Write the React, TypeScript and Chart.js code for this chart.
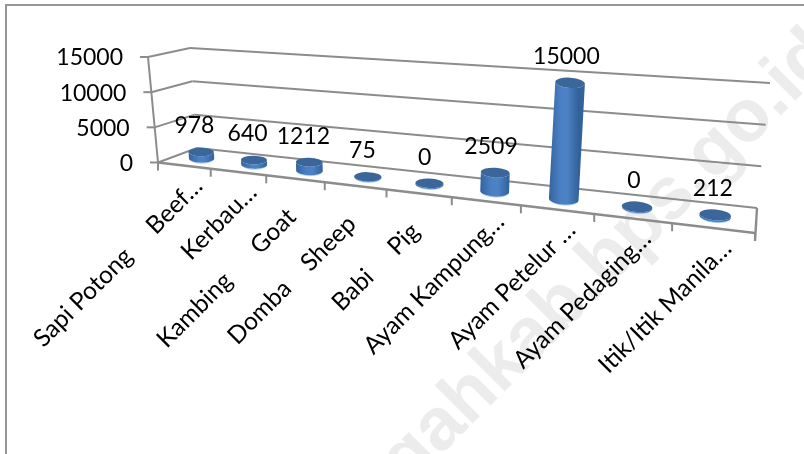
import React, { useEffect, useRef } from "react";
import { Chart, registerables } from "chart.js";

Chart.register(...registerables);

const categories = [
  "Sapi Potong     Beef…",
  "Kerbau…",
  "Kambing      Goat    ",
  "Domba    Sheep    ",
  "Babi     Pig    ",
  "Ayam Kampung…",
  "Ayam Petelur …",
  "Ayam Pedaging…",
  "Itik/Itik Manila…",
];
const values = [978, 640, 1212, 75, 0, 2509, 15000, 0, 212];
const yTicks = [0, 5000, 10000, 15000];
const watermark = "ngahkab.bps.go.id";

const FONT = '23px Lato, "Open Sans", sans-serif';
const LABEL_FONT = '24.5px Lato, "Open Sans", sans-serif';
const GRID = "#8c8c8c";

type P = { x: number; y: number };
const lerp = (a: number, b: number, t: number) => a + (b - a) * t;
const mix = (a: P, b: P, t: number): P => ({ x: lerp(a.x, b.x, t), y: lerp(a.y, b.y, t) });

// Perspective frame of the 3D box (screen corners)
const FRONT_L: P = { x: 158, y: 162.5 };
const FRONT_R: P = { x: 755, y: 233 };
const BACK_L: P = { x: 197, y: 148 };
const BACK_R: P = { x: 757, y: 208 };
const TOP_L: P = { x: 190, y: 48 };
const TOP_R: P = { x: 770, y: 83 };
const WALL_TOP: P = { x: 148, y: 57 };
const PERSPECTIVE = 1.29;

const persp = (u: number) => u / (u + PERSPECTIVE * (1 - u));
const front = (u: number) => mix(FRONT_L, FRONT_R, persp(u));
const back = (u: number) => mix(BACK_L, BACK_R, persp(u));
const top = (u: number) => mix(TOP_L, TOP_R, persp(u));
const onBackWall = (u: number, f: number) => mix(back(u), top(u), f);

const box3d = {
  id: "box3d",
  beforeDraw(chart: any) {
    const ctx = chart.ctx as CanvasRenderingContext2D;
    ctx.save();
    ctx.fillStyle = "#ffffff";
    ctx.fillRect(0, 0, chart.width, chart.height);
    // watermark
    ctx.save();
    ctx.translate(376, 520);
    ctx.rotate(-Math.PI / 4);
    ctx.font = 'bold 74px "Liberation Sans", sans-serif';
    ctx.fillStyle = "#ececec";
    ctx.textAlign = "left";
    ctx.textBaseline = "alphabetic";
    ctx.fillText(watermark, 0, 0);
    ctx.restore();
    // frame
    ctx.strokeStyle = "#959595";
    ctx.lineWidth = 2;
    ctx.beginPath();
    ctx.moveTo(6, 454);
    ctx.lineTo(6, 5);
    ctx.lineTo(804, 5);
    ctx.stroke();
    ctx.restore();
  },
  afterDraw(chart: any) {
    const ctx = chart.ctx as CanvasRenderingContext2D;
    const xs = chart.scales.x;
    const ys = chart.scales.y;
    const frac = (v: number) => (ys.bottom - ys.getPixelForValue(v)) / (ys.bottom - ys.top);
    const uOf = (i: number) => (xs.getPixelForValue(i) - xs.left) / xs.width;
    const n = categories.length;

    const line = (a: P, b: P, w = 2) => {
      ctx.lineWidth = w;
      ctx.beginPath();
      ctx.moveTo(a.x, a.y);
      ctx.lineTo(b.x, b.y);
      ctx.stroke();
    };

    ctx.save();
    ctx.strokeStyle = GRID;
    // gridlines, side wall lines, y ticks and labels
    ys.ticks.forEach((tick: any) => {
      const f = frac(tick.value);
      const backL = onBackWall(0, f);
      const sideL = mix(FRONT_L, WALL_TOP, f);
      line(sideL, backL);
      line(backL, onBackWall(1, f));
      line({ x: sideL.x - 8, y: sideL.y }, sideL);
      ctx.fillStyle = "#000";
      ctx.font = FONT;
      ctx.textAlign = "right";
      ctx.textBaseline = "middle";
      ctx.fillText(String(tick.value), sideL.x - 25, sideL.y + 1);
    });
    // axes
    line(FRONT_L, WALL_TOP);
    line(FRONT_L, FRONT_R, 2.4);
    line(BACK_R, { x: FRONT_R.x, y: FRONT_R.y + 8 }, 2.4);
    for (let i = 1; i <= n; i++) {
      const p = front(i / n);
      line(p, { x: p.x, y: p.y + 8 });
    }
    line(FRONT_L, { x: FRONT_L.x, y: FRONT_L.y + 8 });

    // cylinders
    const meta = chart.getDatasetMeta(0);
    values.forEach((v, i) => {
      const u = uOf(i);
      const t = persp(u);
      const base = mix(front(u), back(u), 0.47);
      const up = { x: top(u).x - back(u).x, y: top(u).y - back(u).y };
      const f = frac(meta._parsed[i].y);
      const tp = { x: base.x + up.x * f, y: base.y + up.y * f - (v === 0 ? 1 : 0) };
      const rx = lerp(12.5, 16, t);
      const ry = lerp(4.2, 5.6, t);
      const rot = (t * 6 * Math.PI) / 180;

      const g = ctx.createLinearGradient(base.x - rx, 0, base.x + rx, 0);
      g.addColorStop(0, "#34649f");
      g.addColorStop(0.4, "#4b81c4");
      g.addColorStop(0.6, "#4d83c6");
      g.addColorStop(1, "#33629b");
      ctx.fillStyle = g;
      ctx.beginPath();
      ctx.ellipse(base.x, base.y, rx, ry, rot, 0, Math.PI);
      ctx.lineTo(tp.x - rx, tp.y);
      ctx.ellipse(tp.x, tp.y, rx, ry, rot, Math.PI, 0, true);
      ctx.closePath();
      ctx.fill();
      // lighter bottom rim
      ctx.strokeStyle = "rgba(110,170,235,0.55)";
      ctx.lineWidth = 1;
      ctx.beginPath();
      ctx.ellipse(base.x, base.y + 0.4, rx - 1, ry, rot, 0.4, Math.PI - 0.4);
      ctx.stroke();
      // top cap
      ctx.fillStyle = "#3b6699";
      ctx.beginPath();
      ctx.ellipse(tp.x, tp.y, rx, ry, rot, 0, Math.PI * 2);
      ctx.fill();

      // value label
      ctx.fillStyle = "#000";
      ctx.font = FONT;
      ctx.textAlign = "center";
      ctx.textBaseline = "middle";
      ctx.fillText(String(v), tp.x + lerp(-7, -2, t), tp.y - 26);
    });

    // category labels
    categories.forEach((label, i) => {
      const p = front(uOf(i));
      ctx.save();
      ctx.translate(p.x + 20, p.y + 22);
      ctx.rotate(-Math.PI / 4);
      ctx.fillStyle = "#000";
      ctx.font = LABEL_FONT;
      ctx.textAlign = "right";
      ctx.textBaseline = "alphabetic";
      ctx.fillText(label, 0, 0);
      ctx.restore();
    });
    ctx.restore();
  },
};

export default function App() {
  const ref = useRef<HTMLCanvasElement>(null);
  useEffect(() => {
    document.body.style.margin = "0";
    const chart = new Chart(ref.current!, {
      type: "bar",
      data: {
        labels: categories,
        datasets: [{ data: values, backgroundColor: "rgba(0,0,0,0)", borderWidth: 0 }],
      },
      options: {
        responsive: false,
        animation: false,
        plugins: { legend: { display: false }, tooltip: { enabled: false } },
        layout: { padding: 0 },
        scales: {
          x: { display: false },
          y: {
            display: false,
            min: 0,
            max: 15000,
            afterBuildTicks: (s: any) => {
              s.ticks = yTicks.map((value) => ({ value }));
            },
          },
        },
      },
      plugins: [box3d],
    } as any);
    return () => chart.destroy();
  }, []);
  return (
    <div style={{ width: 804, height: 454, overflow: "hidden" }}>
      <canvas ref={ref} width={804} height={454} style={{ display: "block" }} />
    </div>
  );
}
